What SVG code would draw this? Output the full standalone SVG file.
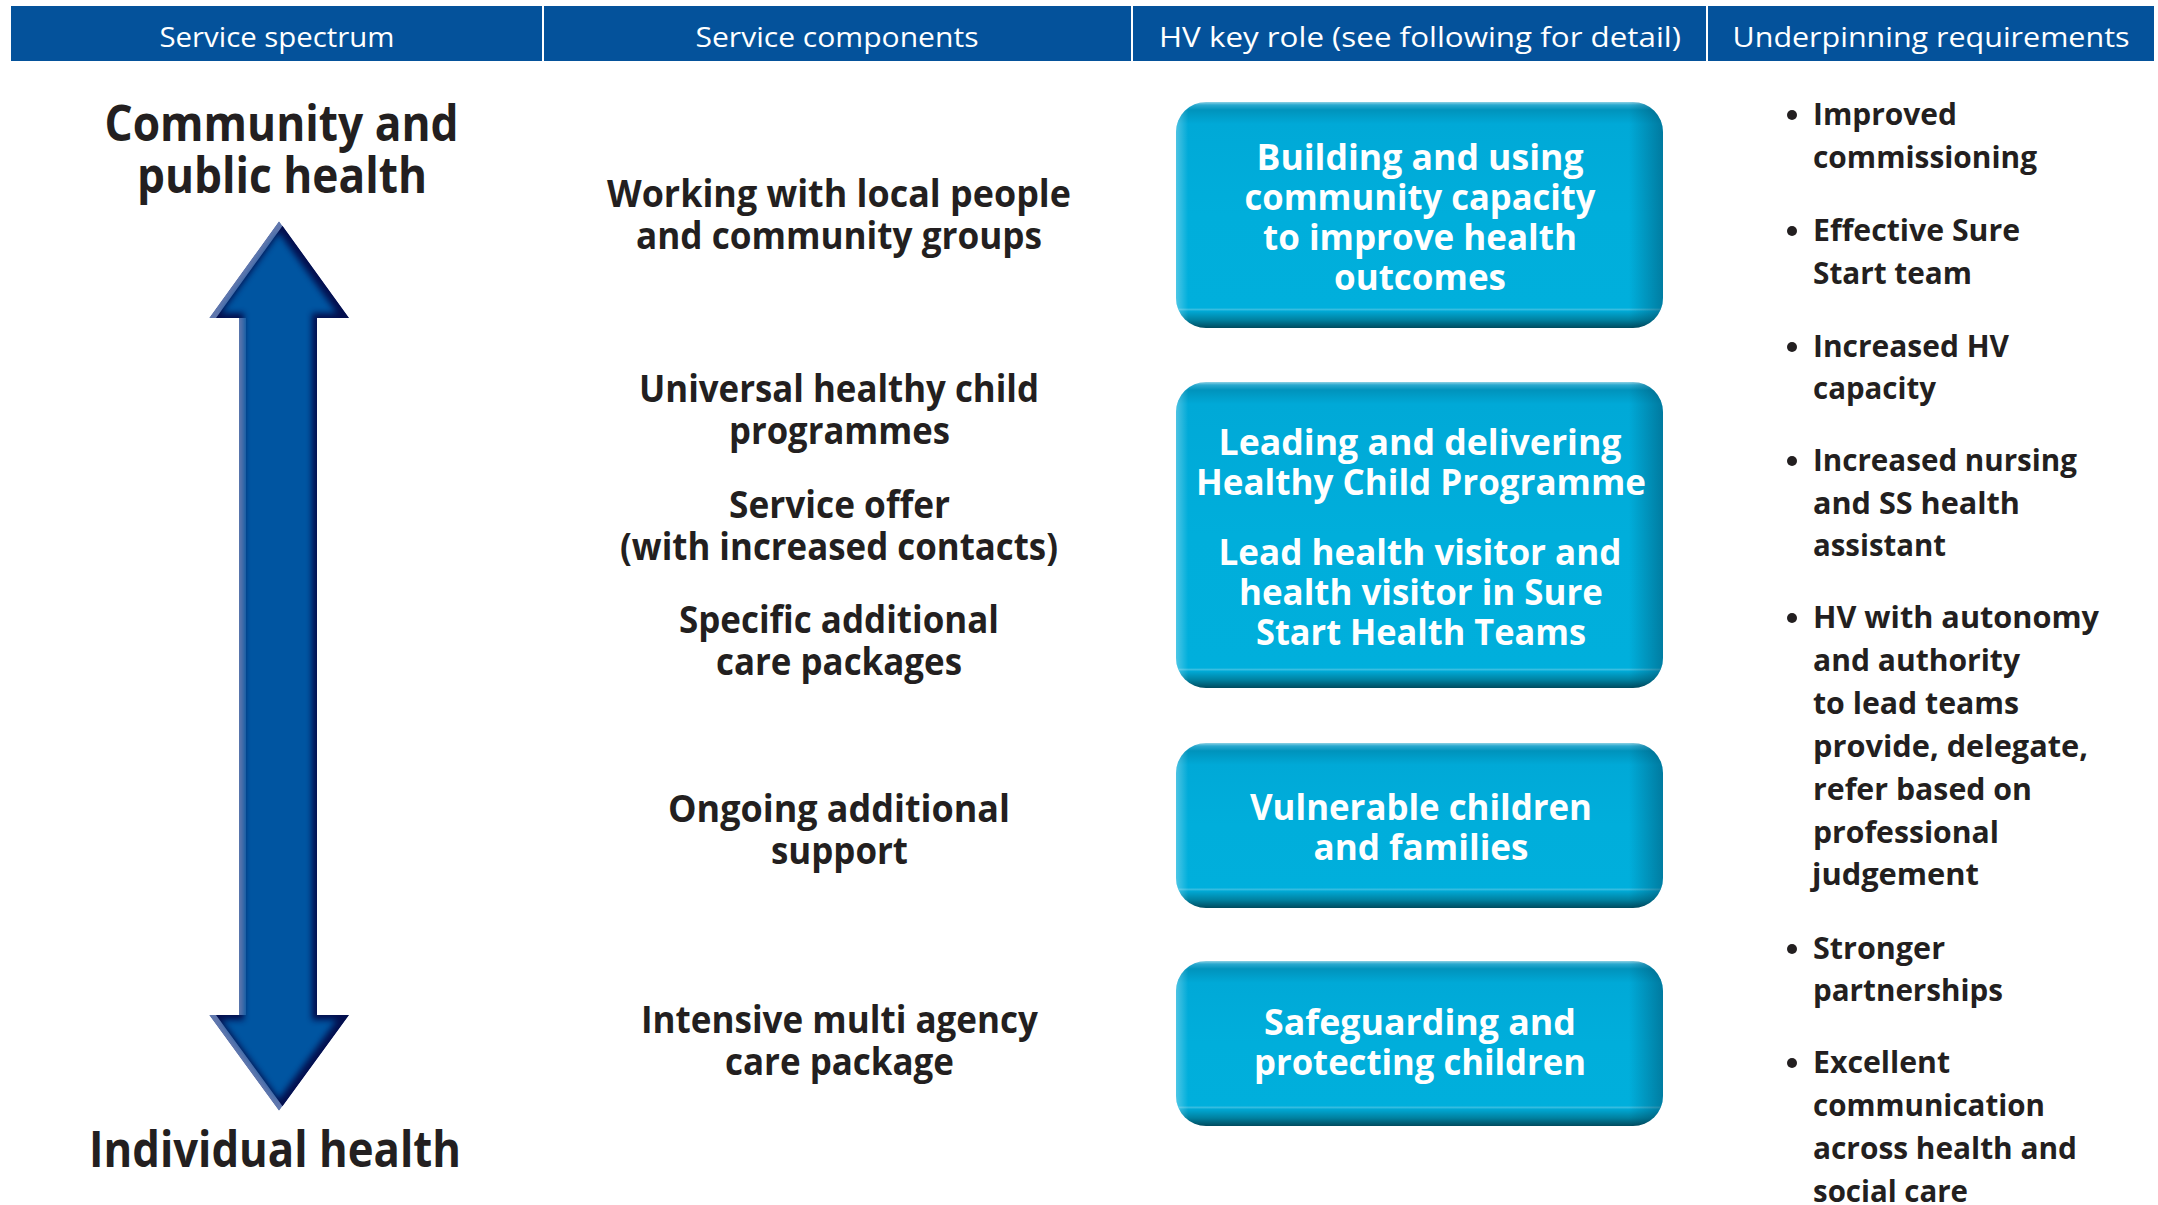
<svg xmlns="http://www.w3.org/2000/svg" width="2158" height="1205" viewBox="0 0 2158 1205">
<defs>
<style>
text{font-family:"Open Sans","Noto Sans","DejaVu Sans",sans-serif}
.hdr{font-size:28px;fill:#fff;text-anchor:middle}
.big{font-size:50px;font-weight:700;fill:#231f20;text-anchor:middle}
.mid{font-size:38px;font-weight:700;fill:#231f20;text-anchor:middle}
.bx{font-size:35px;font-weight:700;fill:#fff;text-anchor:middle}
.req{font-size:31px;font-weight:700;fill:#231f20}
.hbar{fill:#04529b}
.bul{fill:#231f20}
</style>
<linearGradient id="g226" x1="0" y1="0" x2="0" y2="1">
<stop offset="0" stop-color="#8fd2e5"/><stop offset="0.013" stop-color="#2aa9cf"/><stop offset="0.035" stop-color="#0093bc"/><stop offset="0.097" stop-color="#00a9d7"/><stop offset="0.5" stop-color="#00aedb"/><stop offset="0.912" stop-color="#00afdc"/><stop offset="0.917" stop-color="#3fc0e2"/><stop offset="0.926" stop-color="#00a8d4"/><stop offset="0.965" stop-color="#00809f"/><stop offset="1" stop-color="#004b5f"/>
</linearGradient>
<linearGradient id="g306" x1="0" y1="0" x2="0" y2="1">
<stop offset="0" stop-color="#8fd2e5"/><stop offset="0.0098" stop-color="#2aa9cf"/><stop offset="0.026" stop-color="#0093bc"/><stop offset="0.072" stop-color="#00a9d7"/><stop offset="0.5" stop-color="#00aedb"/><stop offset="0.935" stop-color="#00afdc"/><stop offset="0.939" stop-color="#3fc0e2"/><stop offset="0.946" stop-color="#00a8d4"/><stop offset="0.974" stop-color="#00809f"/><stop offset="1" stop-color="#004b5f"/>
</linearGradient>
<linearGradient id="g165" x1="0" y1="0" x2="0" y2="1">
<stop offset="0" stop-color="#8fd2e5"/><stop offset="0.018" stop-color="#2aa9cf"/><stop offset="0.048" stop-color="#0093bc"/><stop offset="0.133" stop-color="#00a9d7"/><stop offset="0.5" stop-color="#00aedb"/><stop offset="0.879" stop-color="#00afdc"/><stop offset="0.886" stop-color="#3fc0e2"/><stop offset="0.898" stop-color="#00a8d4"/><stop offset="0.952" stop-color="#00809f"/><stop offset="1" stop-color="#004b5f"/>
</linearGradient>
<linearGradient id="gh" x1="0" y1="0" x2="1" y2="0">
<stop offset="0" stop-color="#ffffff" stop-opacity="0.3"/><stop offset="0.025" stop-color="#ffffff" stop-opacity="0"/><stop offset="0.93" stop-color="#00324a" stop-opacity="0"/><stop offset="1" stop-color="#00324a" stop-opacity="0.4"/>
</linearGradient>
<clipPath id="arrowClip"><path id="arrowShape" d="M279,221 L349,318 L317,318 L317,1015 L349,1015 L279,1111 L209,1015 L239,1015 L239,318 L209,318 Z"/></clipPath>
<filter id="inset" x="-20%" y="-5%" width="140%" height="110%">
<feMorphology operator="erode" radius="5"/>
<feGaussianBlur stdDeviation="3"/>
</filter>
<linearGradient id="shaft" gradientUnits="userSpaceOnUse" x1="239" y1="0" x2="317" y2="0">
<stop offset="0" stop-color="#1c4b95"/><stop offset="0.3" stop-color="#0656a2"/><stop offset="0.75" stop-color="#05529e"/><stop offset="1" stop-color="#043d86"/>
</linearGradient>
</defs>

<rect x="0" y="0" width="2158" height="1205" fill="#ffffff"/>

<g id="header">
<rect class="hbar" x="11" y="6" width="531" height="55"/>
<rect class="hbar" x="544" y="6" width="587" height="55"/>
<rect class="hbar" x="1133" y="6" width="573" height="55"/>
<rect class="hbar" x="1708" y="6" width="446" height="55"/>
<text class="hdr" x="277" y="47" textLength="235" lengthAdjust="spacingAndGlyphs">Service spectrum</text>
<text class="hdr" x="837" y="47" textLength="283" lengthAdjust="spacingAndGlyphs">Service components</text>
<text class="hdr" x="1420" y="47" textLength="522" lengthAdjust="spacingAndGlyphs">HV key role (see following for detail)</text>
<text class="hdr" x="1931" y="47" textLength="397" lengthAdjust="spacingAndGlyphs">Underpinning requirements</text>
</g>

<g id="spectrum-top">
<text class="big" x="281.5" y="141" textLength="354" lengthAdjust="spacingAndGlyphs">Community and</text>
<text class="big" x="282" y="193" textLength="290" lengthAdjust="spacingAndGlyphs">public health</text>
</g>
<g id="spectrum-bottom">
<text class="big" x="275" y="1167" textLength="372" lengthAdjust="spacingAndGlyphs">Individual health</text>
</g>

<g id="connectors">
<g id="spectrum-arrow" clip-path="url(#arrowClip)">
<path d="M279,221 L349,318 L317,318 L317,1015 L349,1015 L279,1111 L209,1015 L239,1015 L239,318 L209,318 Z" fill="#6077ad"/>
<path transform="translate(7,0)" d="M279,221 L349,318 L317,318 L317,1015 L349,1015 L279,1111 L209,1015 L239,1015 L239,318 L209,318 Z" fill="#030f4e"/>
<path d="M279,221 L349,318 L317,318 L317,1015 L349,1015 L279,1111 L209,1015 L239,1015 L239,318 L209,318 Z" fill="#0655a1" filter="url(#inset)"/>
</g>
</g>

<g id="component-1">
<text class="mid" x="839" y="207" textLength="464" lengthAdjust="spacingAndGlyphs">Working with local people</text>
<text class="mid" x="839" y="249" textLength="406" lengthAdjust="spacingAndGlyphs">and community groups</text>
</g>
<g id="component-2">
<text class="mid" x="839" y="402" textLength="400" lengthAdjust="spacingAndGlyphs">Universal healthy child</text>
<text class="mid" x="839.5" y="444" textLength="221" lengthAdjust="spacingAndGlyphs">programmes</text>
</g>
<g id="component-3">
<text class="mid" x="839.5" y="518" textLength="221" lengthAdjust="spacingAndGlyphs">Service offer</text>
<text class="mid" x="839" y="560" textLength="438" lengthAdjust="spacingAndGlyphs">(with increased contacts)</text>
</g>
<g id="component-4">
<text class="mid" x="839" y="633" textLength="320" lengthAdjust="spacingAndGlyphs">Specific additional</text>
<text class="mid" x="839" y="675" textLength="246" lengthAdjust="spacingAndGlyphs">care packages</text>
</g>
<g id="component-5">
<text class="mid" x="839" y="822" textLength="342" lengthAdjust="spacingAndGlyphs">Ongoing additional</text>
<text class="mid" x="839.5" y="864" textLength="137" lengthAdjust="spacingAndGlyphs">support</text>
</g>
<g id="component-6">
<text class="mid" x="839.5" y="1033" textLength="397" lengthAdjust="spacingAndGlyphs">Intensive multi agency</text>
<text class="mid" x="839.5" y="1075" textLength="229" lengthAdjust="spacingAndGlyphs">care package</text>
</g>

<g id="role-1">
<rect x="1176" y="102" width="487" height="226" rx="30" fill="url(#g226)"/>
<rect x="1176" y="102" width="487" height="226" rx="30" fill="url(#gh)"/>
<text class="bx" x="1420" y="170" textLength="327" lengthAdjust="spacingAndGlyphs">Building and using</text>
<text class="bx" x="1420" y="210" textLength="351" lengthAdjust="spacingAndGlyphs">community capacity</text>
<text class="bx" x="1420" y="250" textLength="314" lengthAdjust="spacingAndGlyphs">to improve health</text>
<text class="bx" x="1420" y="290" textLength="172" lengthAdjust="spacingAndGlyphs">outcomes</text>
</g>
<g id="role-2">
<rect x="1176" y="382" width="487" height="306" rx="30" fill="url(#g306)"/>
<rect x="1176" y="382" width="487" height="306" rx="30" fill="url(#gh)"/>
<text class="bx" x="1420" y="455" textLength="403" lengthAdjust="spacingAndGlyphs">Leading and delivering</text>
<text class="bx" x="1421" y="495" textLength="450" lengthAdjust="spacingAndGlyphs">Healthy Child Programme</text>
<text class="bx" x="1420" y="565" textLength="403" lengthAdjust="spacingAndGlyphs">Lead health visitor and</text>
<text class="bx" x="1421" y="605" textLength="364" lengthAdjust="spacingAndGlyphs">health visitor in Sure</text>
<text class="bx" x="1421" y="645" textLength="330" lengthAdjust="spacingAndGlyphs">Start Health Teams</text>
</g>
<g id="role-3">
<rect x="1176" y="743" width="487" height="165" rx="30" fill="url(#g165)"/>
<rect x="1176" y="743" width="487" height="165" rx="30" fill="url(#gh)"/>
<text class="bx" x="1421" y="820" textLength="342" lengthAdjust="spacingAndGlyphs">Vulnerable children</text>
<text class="bx" x="1421" y="860" textLength="215" lengthAdjust="spacingAndGlyphs">and families</text>
</g>
<g id="role-4">
<rect x="1176" y="961" width="487" height="165" rx="30" fill="url(#g165)"/>
<rect x="1176" y="961" width="487" height="165" rx="30" fill="url(#gh)"/>
<text class="bx" x="1420" y="1035" textLength="312" lengthAdjust="spacingAndGlyphs">Safeguarding and</text>
<text class="bx" x="1420" y="1075" textLength="332" lengthAdjust="spacingAndGlyphs">protecting children</text>
</g>

<g id="req-1">
<circle class="bul" cx="1792" cy="115" r="5"/>
<text class="req" x="1813" y="125" textLength="144" lengthAdjust="spacingAndGlyphs">Improved</text>
<text class="req" x="1813" y="168" textLength="224" lengthAdjust="spacingAndGlyphs">commissioning</text>
</g>
<g id="req-2">
<circle class="bul" cx="1792" cy="231" r="5"/>
<text class="req" x="1813" y="241" textLength="207" lengthAdjust="spacingAndGlyphs">Effective Sure</text>
<text class="req" x="1813" y="284" textLength="159" lengthAdjust="spacingAndGlyphs">Start team</text>
</g>
<g id="req-3">
<circle class="bul" cx="1792" cy="347" r="5"/>
<text class="req" x="1813" y="357" textLength="196" lengthAdjust="spacingAndGlyphs">Increased HV</text>
<text class="req" x="1813" y="399" textLength="123" lengthAdjust="spacingAndGlyphs">capacity</text>
</g>
<g id="req-4">
<circle class="bul" cx="1792" cy="461" r="5"/>
<text class="req" x="1813" y="471" textLength="264" lengthAdjust="spacingAndGlyphs">Increased nursing</text>
<text class="req" x="1813" y="514" textLength="207" lengthAdjust="spacingAndGlyphs">and SS health</text>
<text class="req" x="1813" y="556" textLength="133" lengthAdjust="spacingAndGlyphs">assistant</text>
</g>
<g id="req-5">
<circle class="bul" cx="1792" cy="618" r="5"/>
<text class="req" x="1813" y="628" textLength="286" lengthAdjust="spacingAndGlyphs">HV with autonomy</text>
<text class="req" x="1813" y="671" textLength="207" lengthAdjust="spacingAndGlyphs">and authority</text>
<text class="req" x="1813" y="714" textLength="206" lengthAdjust="spacingAndGlyphs">to lead teams</text>
<text class="req" x="1813" y="757" textLength="275" lengthAdjust="spacingAndGlyphs">provide, delegate,</text>
<text class="req" x="1813" y="800" textLength="219" lengthAdjust="spacingAndGlyphs">refer based on</text>
<text class="req" x="1813" y="843" textLength="186" lengthAdjust="spacingAndGlyphs">professional</text>
<text class="req" x="1812" y="885" textLength="167" lengthAdjust="spacingAndGlyphs">judgement</text>
</g>
<g id="req-6">
<circle class="bul" cx="1792" cy="949" r="5"/>
<text class="req" x="1813" y="959" textLength="132" lengthAdjust="spacingAndGlyphs">Stronger</text>
<text class="req" x="1813" y="1001" textLength="190" lengthAdjust="spacingAndGlyphs">partnerships</text>
</g>
<g id="req-7">
<circle class="bul" cx="1792" cy="1063" r="5"/>
<text class="req" x="1813" y="1073" textLength="137" lengthAdjust="spacingAndGlyphs">Excellent</text>
<text class="req" x="1813" y="1116" textLength="232" lengthAdjust="spacingAndGlyphs">communication</text>
<text class="req" x="1813" y="1159" textLength="264" lengthAdjust="spacingAndGlyphs">across health and</text>
<text class="req" x="1813" y="1202" textLength="155" lengthAdjust="spacingAndGlyphs">social care</text>
</g>
</svg>
